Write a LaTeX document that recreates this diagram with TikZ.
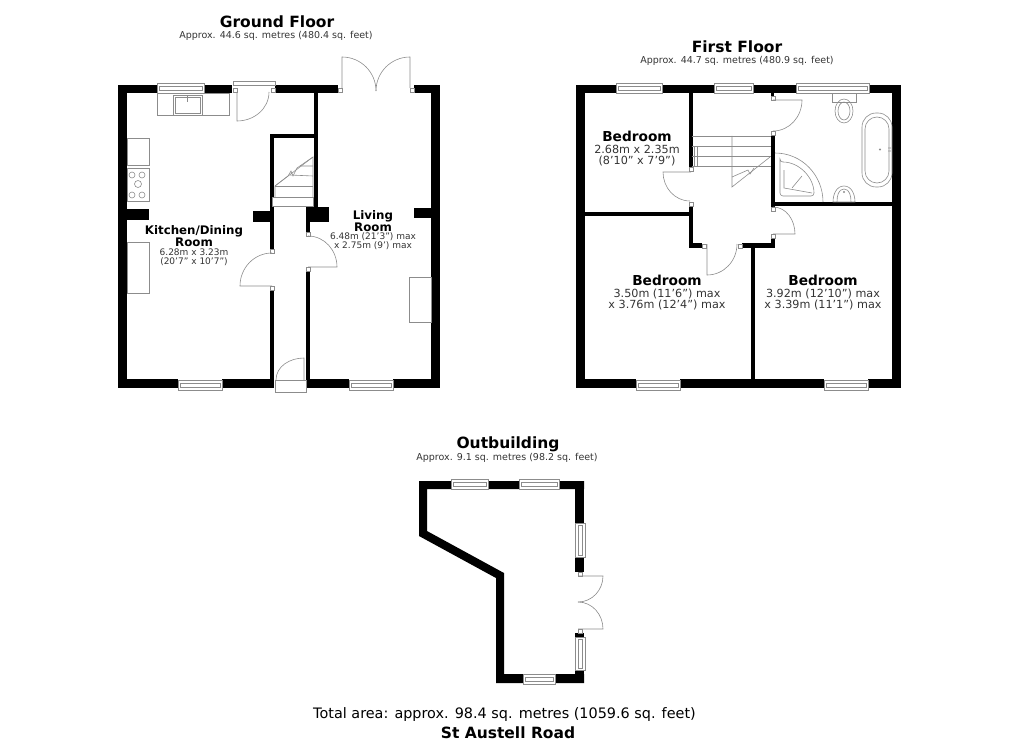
\documentclass[tikz,border=0pt]{standalone}
\usepackage{fontspec}
\setmainfont{DejaVu Sans}
\tikzset{
  wall/.style={fill=black},
  fixture/.style={draw=black!45,line width=.6pt},
  glazing/.style={draw=black!45,line width=.6pt,fill=white},
  title/.style={inner sep=0pt,font=\bfseries\fontsize{15.5}{17}\selectfont},
  subtitle/.style={inner sep=0pt,text=black!80,font=\fontsize{9.5}{11}\selectfont},
  roomname/.style={inner sep=0pt,align=center,font=\bfseries\fontsize{11.8}{11.8}\selectfont},
  roomsize/.style={inner sep=0pt,align=center,text=black!80,font=\fontsize{9}{9.2}\selectfont},
  bedname/.style={inner sep=0pt,align=center,font=\bfseries\fontsize{13.7}{14}\selectfont},
  bedsize/.style={inner sep=0pt,align=center,text=black!80,font=\fontsize{11.2}{11.4}\selectfont},
  footer/.style={inner sep=0pt,font=\fontsize{14.4}{16}\selectfont},
  address/.style={inner sep=0pt,font=\bfseries\fontsize{15.5}{17}\selectfont}
}
\begin{document}
\begin{tikzpicture}[x=1pt,y=-1pt]
\useasboundingbox (0,0) rectangle (1020,741);
% walls
\foreach \xa/\ya/\xb/\yb in {
  118/85/127/388, 431/85/440/388, 118/85/157/93, 204/85/232/93, 275/85/338/93, 414/85/440/93,
  118/379/178/388, 222/379/274/388, 306/379/349/388, 393/379/440/388,
  127/209/149/220, 253/211/274/222, 306/207/329/222, 414/208/431/218,
  314/93/318/210, 270/134/318/138, 270/134/274/249, 270/290/274/388, 306/222/310/233, 306/271/310/388,
  576/85/585/388, 892/85/901/388, 576/85/616/93, 662/85/714/93, 753/85/796/93, 869/85/901/93,
  576/379/636/388, 680/379/824/388, 868/379/901/388,
  689/93/693/167, 689/206/693/248, 689/243/702/248, 742/243/775/248, 771/239/775/248,
  771/136/775/207, 771/202/892/206, 585/212/689/216, 751/248/755/379, 771/93/774/96,
  575/481/584/523, 575/557/584/572, 575/633/584/637, 575/670/584/683}
  \fill[wall] (\xa,\ya) rectangle (\xb,\yb);
\fill[wall] (419,481) -- (584,481) -- (584,489) -- (427,489) -- (427,531) -- (504,573) -- (504,674)
  -- (584,674) -- (584,683) -- (496,683) -- (496,578) -- (419,536) -- cycle;
% windows
\foreach \xa/\xb/\ya in {157/204/83, 178/222/380, 349/393/380, 616/662/83, 714/753/83, 796/869/83,
  636/680/380, 824/868/380, 451/488/479, 519/559/479, 523/555/674} {
  \draw[glazing] (\xa,\ya) rectangle (\xb,\ya+10);
  \draw[fixture] (\xa+2,\ya+3) rectangle (\xb-2,\ya+7);
}
\foreach \ya/\yb/\xa in {523/557/575, 637/670/575} {
  \draw[glazing] (\xa,\ya) rectangle (\xa+10,\yb);
  \draw[fixture] (\xa+3,\ya+2) rectangle (\xa+7,\yb-2);
}
% ground floor doors
\draw[glazing] (233,81) rectangle (275,85);
\foreach \xa/\ya in {233/88, 271/88, 338/88, 410/88, 270/249, 270/286, 306/232, 306/267, 702/244, 738/244,
  771/96, 771/131, 689/167, 689/202, 771/207, 771/234, 578/572, 578/629}
  \draw[glazing] (\xa,\ya) rectangle +(4,4);
\draw[fixture] (237,92) -- (237,121) to[out=0,in=-90] (269,92);
\draw[fixture] (342,88) -- (342,57) to[out=0,in=90] (376,91);
\draw[fixture] (410,88) -- (410,57) to[out=180,in=90] (376,91);
\draw[fixture] (272,286) -- (240,286) to[out=90,in=180] (272,253);
\draw[fixture] (308,267) -- (337,267) to[out=90,in=0] (308,236);
\draw[glazing] (275,380) rectangle (306,392);
\draw[fixture] (304,380) -- (304,358) to[out=180,in=90] (276,380);
% kitchen
\draw[fixture] (157,93) rectangle (229,115);
\draw[fixture] (173,95) rectangle (202,115);
\draw[fixture] (175,97) rectangle (200,113);
\draw[fixture] (187,95) -- (187,102);
\draw[fixture] (127,138) rectangle (149,165);
\draw[fixture] (127,168) rectangle (149,201);
\foreach \xa/\ya in {132/175, 142/175, 132/195, 142/195}
  \draw[fixture] (\xa,\ya) circle (3);
\draw[fixture] (138,184) circle (3.5);
\draw[fixture] (127,242) rectangle (149,293);
\draw[fixture] (409,277) rectangle (431,322);
% ground floor stairs
\draw[glazing] (272,197) rectangle (313,206);
\draw[fixture] (275,186) -- (313,186);
\draw[fixture] (275,197) -- (275,186) -- (313,157) -- (313,197);
\draw[fixture] (290,175) -- (313,176) (301,166) -- (313,166);
\draw[fixture] (275,186) -- (288,176) -- (291,171) -- (293,176) -- (297,168) -- (313,157);
% first floor doors
\draw[fixture] (691,172) -- (663,172) to[out=-90,in=180] (690,201);
\draw[fixture] (773,100) -- (802,100) to[out=-90,in=0] (773,131);
\draw[fixture] (773,234) -- (795,234) to[out=90,in=0] (773,207);
\draw[fixture] (707,244) -- (707,275) to[out=0,in=-90] (737,244);
% first floor stairs
\foreach \ya in {136, 146, 156, 166}
  \draw[fixture] (692,\ya) -- (771,\ya);
\draw[fixture] (732,136) -- (732,187) -- (770,157);
\draw[fixture] (694,146) -- (694,166) (697,146) -- (697,166);
\draw[fixture] (732,177) -- (748,170) -- (750,174) -- (754,168);
% bathroom
\draw[fixture] (832,93) rectangle (856,102);
\draw[fixture] (844,111) ellipse [x radius=9,y radius=12];
\draw[fixture] (844,111) ellipse [x radius=6,y radius=9];
\draw[fixture,rounded corners=14pt] (862,113) rectangle (892,187);
\draw[fixture,rounded corners=12pt] (865,117) rectangle (889,183);
\draw[fixture] (888,148) -- (891,148) (888,151) -- (891,151) (880,149.5) circle (.8);
\draw[fixture] (775,153) to[out=0,in=90] (823,202);
\draw[fixture,rounded corners=3pt] (780,162) -- (780,196) -- (814,196) to[out=90,in=0] cycle;
\draw[fixture] (784,170) -- (784,188) -- (812,193) (792,188) -- (802,176);
\draw[fixture] (833,202) to[out=90,in=180] (844,186) to[out=0,in=90] (855,202) -- cycle;
\draw[fixture] (837,202) to[out=90,in=180] (844,189) to[out=0,in=90] (851,202);
\draw[fixture] (844,192) circle (.8);
% outbuilding door
\draw[fixture] (578,576) -- (603,576) to[out=-90,in=0] (578,602);
\draw[fixture] (578,629) -- (603,629) to[out=90,in=0] (578,602);
% labels
\node[title] (groundtitle) at (277,22) {Ground Floor};
\node[subtitle] (groundarea) at (276,36) {Approx. 44.6 sq. metres (480.4 sq. feet)};
\node[title] (firsttitle) at (737,47) {First Floor};
\node[subtitle] (firstarea) at (737,61) {Approx. 44.7 sq. metres (480.9 sq. feet)};
\node[title] (outtitle) at (508,444) {Outbuilding};
\node[subtitle] (outarea) at (507,458) {Approx. 9.1 sq. metres (98.2 sq. feet)};
\node[roomname] (kitchenname) at (194,236) {Kitchen/Dining\\Room};
\node[roomsize] (kitchensize) at (194,257.5) {6.28m x 3.23m\\(20'7" x 10'7")};
\node[roomname] (livingname) at (373,221) {Living\\Room};
\node[roomsize] (livingsize) at (373,241.5) {6.48m (21'3") max\\x 2.75m (9') max};
\node[bedname] (bedonename) at (637,136) {Bedroom};
\node[bedsize] (bedonesize) at (637,155.5) {2.68m x 2.35m\\(8'10" x 7'9")};
\node[bedname] (bedtwoname) at (667,280.5) {Bedroom};
\node[bedsize] (bedtwosize) at (667,299.5) {3.50m (11'6") max\\x 3.76m (12'4") max};
\node[bedname] (bedthreename) at (823,280.5) {Bedroom};
\node[bedsize] (bedthreesize) at (823,299.5) {3.92m (12'10") max\\x 3.39m (11'1") max};
\node[footer] (totalarea) at (504.5,714.5) {Total area: approx. 98.4 sq. metres (1059.6 sq. feet)};
\node[address] (address) at (508,732.5) {St Austell Road};
\end{tikzpicture}
\end{document}
